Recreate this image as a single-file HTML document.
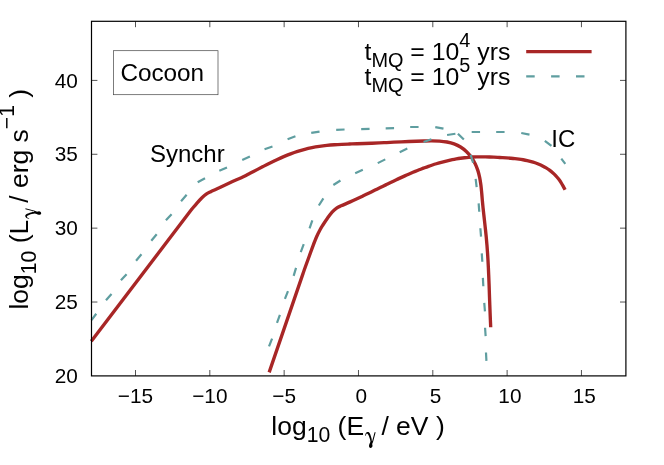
<!DOCTYPE html>
<html><head><meta charset="utf-8"><title>plot</title><style>html,body{margin:0;padding:0;background:#fff;}body{width:664px;height:465px;overflow:hidden;position:relative;font-family:"Liberation Sans",sans-serif;}</style></head><body>
<svg width="664" height="465" viewBox="0 0 664 465" style="position:absolute;left:0;top:0">
<rect width="664" height="465" fill="#fff"/>
<path d="M135.50,375.9 v-5.9 M135.50,21.3 v5.9 M209.82,375.9 v-5.9 M209.82,21.3 v5.9 M284.15,375.9 v-5.9 M284.15,21.3 v5.9 M358.47,375.9 v-5.9 M358.47,21.3 v5.9 M432.80,375.9 v-5.9 M432.80,21.3 v5.9 M507.12,375.9 v-5.9 M507.12,21.3 v5.9 M581.45,375.9 v-5.9 M581.45,21.3 v5.9 M91.5,302.02 h5.9 M625.9,302.02 h-5.9 M91.5,228.15 h5.9 M625.9,228.15 h-5.9 M91.5,154.27 h5.9 M625.9,154.27 h-5.9 M91.5,80.40 h5.9 M625.9,80.40 h-5.9" stroke="#1a1a1a" stroke-width="0.75" fill="none"/>
<path d="M91.30,341.30 L191.70,209.30 C192.62,208.22 195.53,204.68 197.20,202.80 C198.87,200.92 200.20,199.43 201.70,198.00 C203.20,196.57 204.70,195.25 206.20,194.20 C207.70,193.15 209.05,192.53 210.70,191.70 C212.35,190.87 213.68,190.32 216.10,189.20 C218.52,188.08 222.18,186.40 225.20,185.00 C228.22,183.60 231.19,182.17 234.20,180.80 C237.21,179.43 240.65,178.04 243.28,176.79 C245.91,175.55 247.75,174.51 249.98,173.35 C252.21,172.20 254.44,171.02 256.67,169.86 C258.90,168.70 261.13,167.53 263.37,166.38 C265.61,165.23 267.85,164.09 270.10,162.98 C272.34,161.86 274.60,160.76 276.87,159.71 C279.13,158.65 281.41,157.62 283.70,156.64 C285.99,155.66 288.29,154.72 290.61,153.84 C292.93,152.96 295.27,152.12 297.63,151.36 C299.98,150.60 302.36,149.90 304.76,149.27 C307.15,148.65 309.58,148.11 312.02,147.62 C314.45,147.14 316.91,146.73 319.39,146.36 C321.86,146.00 324.35,145.70 326.84,145.44 C329.34,145.18 331.85,144.97 334.36,144.78 C336.87,144.59 339.39,144.45 341.90,144.32 C344.42,144.19 346.94,144.10 349.46,144.00 C351.97,143.91 354.49,143.84 356.99,143.76 C359.49,143.68 361.99,143.61 364.48,143.52 C366.96,143.43 369.43,143.34 371.90,143.23 C374.37,143.13 376.82,143.02 379.27,142.90 C381.73,142.79 384.17,142.67 386.62,142.55 C389.07,142.43 391.52,142.30 393.97,142.18 C396.43,142.06 398.89,141.94 401.36,141.82 C403.83,141.71 406.30,141.60 408.80,141.49 C411.29,141.39 413.80,141.29 416.32,141.21 C418.85,141.13 421.40,141.05 423.96,140.99 C426.53,140.94 429.14,140.87 431.72,140.89 C434.30,140.91 436.91,140.94 439.45,141.13 C441.99,141.32 444.53,141.57 446.97,142.02 C449.40,142.48 451.81,143.04 454.08,143.86 C456.35,144.69 458.54,145.69 460.59,146.96 C462.63,148.22 464.56,149.75 466.33,151.43 C468.10,153.11 469.73,155.03 471.19,157.03 C472.64,159.04 473.94,161.22 475.05,163.44 C476.16,165.66 477.06,168.00 477.83,170.36 C478.61,172.72 479.18,175.16 479.69,177.61 C480.20,180.07 480.55,182.58 480.89,185.09 C481.22,187.61 481.44,190.16 481.68,192.69 C481.92,195.22 482.10,197.77 482.33,200.29 C482.56,202.81 482.81,205.31 483.06,207.81 C483.32,210.30 483.59,212.78 483.87,215.25 C484.14,217.73 484.42,220.19 484.70,222.65 C484.97,225.11 485.25,227.57 485.52,230.03 C485.78,232.49 486.04,234.95 486.27,237.41 C486.51,239.88 486.73,242.35 486.93,244.83 C487.13,247.31 487.32,249.79 487.49,252.28 C487.66,254.77 487.81,257.26 487.96,259.76 C488.10,262.25 488.23,264.75 488.35,267.26 C488.48,269.76 488.59,272.26 488.69,274.77 C488.80,277.27 488.90,279.78 488.99,282.29 C489.09,284.79 489.18,287.30 489.26,289.80 C489.35,292.31 489.44,294.82 489.52,297.32 C489.61,299.82 489.70,302.32 489.79,304.82 C489.88,307.31 489.97,309.81 490.07,312.30 C490.17,314.79 490.28,317.27 490.38,319.75 C490.49,322.24 490.65,325.96 490.70,327.20" stroke="#a82626" stroke-width="3.35" fill="none" stroke-linejoin="round"/>
<path d="M269.15,372.40 L303.00,273.60 C303.38,272.50 304.23,269.98 305.30,267.00 C306.37,264.02 308.12,259.23 309.40,255.70 C310.68,252.17 311.80,248.97 313.00,245.80 C314.20,242.63 315.40,239.42 316.60,236.70 C317.80,233.98 319.15,231.45 320.20,229.50 C321.25,227.55 321.67,226.92 322.90,225.00 C324.13,223.08 326.07,220.15 327.60,218.00 C329.13,215.85 330.60,213.75 332.10,212.10 C333.60,210.45 335.10,209.15 336.60,208.10 C338.10,207.05 338.83,206.83 341.10,205.80 C343.37,204.77 347.18,203.23 350.20,201.90 C353.22,200.57 356.94,198.85 359.20,197.80 C361.46,196.75 362.40,196.26 363.79,195.59 C365.18,194.92 366.29,194.38 367.54,193.78 C368.79,193.17 370.04,192.56 371.29,191.95 C372.55,191.33 373.80,190.72 375.05,190.10 C376.30,189.49 377.56,188.87 378.81,188.26 C380.07,187.64 381.32,187.02 382.58,186.41 C383.83,185.79 385.09,185.18 386.35,184.57 C387.61,183.96 388.87,183.34 390.13,182.74 C391.39,182.13 392.65,181.53 393.91,180.93 C395.18,180.33 396.44,179.73 397.71,179.14 C398.97,178.54 400.24,177.96 401.51,177.38 C402.78,176.79 404.05,176.22 405.33,175.65 C406.60,175.08 407.88,174.52 409.15,173.96 C410.43,173.41 411.71,172.86 412.99,172.32 C414.27,171.78 415.56,171.25 416.85,170.73 C418.13,170.21 419.42,169.70 420.71,169.20 C422.01,168.70 423.30,168.21 424.60,167.73 C425.89,167.25 427.19,166.78 428.50,166.33 C429.80,165.87 431.11,165.43 432.42,165.00 C433.72,164.57 435.04,164.15 436.35,163.75 C437.67,163.35 438.99,162.96 440.31,162.59 C441.63,162.22 442.96,161.86 444.28,161.52 C445.61,161.18 446.95,160.85 448.28,160.54 C449.62,160.23 450.96,159.94 452.30,159.67 C453.65,159.39 455.00,159.14 456.35,158.90 C457.70,158.67 459.06,158.45 460.42,158.25 C461.78,158.05 463.14,157.87 464.51,157.72 C465.88,157.56 467.25,157.42 468.63,157.31 C470.01,157.20 471.39,157.10 472.78,157.03 C474.17,156.96 475.56,156.91 476.95,156.88 C478.35,156.85 479.75,156.84 481.15,156.84 C482.55,156.84 483.95,156.86 485.36,156.89 C486.77,156.91 488.17,156.96 489.58,157.01 C490.99,157.06 492.40,157.12 493.81,157.19 C495.22,157.26 496.63,157.34 498.04,157.42 C499.45,157.50 500.87,157.58 502.27,157.67 C503.68,157.75 505.09,157.84 506.49,157.93 C507.90,158.03 509.30,158.13 510.70,158.24 C512.09,158.36 513.49,158.48 514.88,158.63 C516.26,158.77 517.65,158.93 519.02,159.12 C520.39,159.30 521.76,159.51 523.12,159.74 C524.48,159.98 525.83,160.24 527.17,160.54 C528.51,160.84 529.84,161.17 531.16,161.54 C532.47,161.91 533.78,162.32 535.07,162.76 C536.35,163.21 537.63,163.70 538.88,164.23 C540.13,164.76 541.36,165.33 542.57,165.94 C543.77,166.56 544.96,167.22 546.12,167.93 C547.27,168.64 548.40,169.39 549.50,170.20 C550.59,171.00 551.66,171.86 552.69,172.76 C553.72,173.67 554.72,174.63 555.68,175.64 C556.63,176.64 557.56,177.70 558.43,178.81 C559.30,179.92 560.14,181.08 560.93,182.30 C561.71,183.51 562.45,184.84 563.14,186.09 C563.84,187.34 564.77,189.18 565.10,189.80" stroke="#a82626" stroke-width="3.35" fill="none" stroke-linejoin="round"/>
<path d="M91.50,320.20 L96.25,313.75 M105.99,300.29 L111.51,293.96 M120.92,280.36 L126.58,274.14 M136.06,260.73 L141.44,254.27 M151.29,240.71 L156.71,234.29 M165.92,220.36 L171.58,214.14 M181.07,201.15 L186.63,194.85 M197.67,182.32 L205.03,178.28 M219.31,170.84 L226.99,167.46 M242.22,160.03 L249.88,156.57 M264.53,149.24 L272.47,146.51 M287.57,139.22 L295.43,136.28 M311.22,132.80 L319.53,131.55 M336.18,129.80 L344.57,129.50 M361.18,129.05 L369.57,128.95 M385.68,128.30 L394.07,128.20 M410.18,127.00 L418.57,127.00 M435.26,127.05 L443.49,128.70 M457.91,133.66 L463.84,139.59 M470.67,154.73 L473.08,162.77 M475.65,178.88 L476.65,187.22 M478.66,203.36 L479.24,211.74 M480.37,228.26 L481.03,236.64 M481.78,253.36 L482.32,261.74 M482.87,277.91 L483.33,286.29 M484.26,302.91 L484.94,311.29 M485.07,327.76 L485.63,336.14 M485.98,352.46 L486.42,360.84" stroke="#5f9ea0" stroke-width="2.2" fill="none"/>
<path d="M269.02,346.41 L272.08,338.59 M276.99,322.79 L279.91,314.91 M284.92,298.91 L287.98,291.09 M293.65,275.87 L296.05,267.83 M300.75,252.02 L303.75,244.18 M309.56,228.31 L312.34,220.39 M318.84,205.49 L323.36,198.41 M333.36,185.05 L340.44,180.55 M355.19,173.21 L362.81,169.69 M377.74,163.13 L385.26,159.37 M399.69,152.14 L407.31,148.61 M423.56,142.07 L431.44,139.18 M447.09,134.99 L455.41,133.76 M471.68,132.00 L480.07,132.00 M496.18,132.00 L504.57,132.00 M521.26,133.00 L529.49,134.70 M544.84,140.77 L551.46,145.93 M561.30,158.60 L565.30,163.80" stroke="#5f9ea0" stroke-width="2.2" fill="none"/>
<rect x="91.5" y="21.3" width="534.4" height="354.59999999999997" fill="none" stroke="#000" stroke-width="1.2"/>
<rect x="113.4" y="50.7" width="104.6" height="44" fill="#fff" stroke="#444" stroke-width="0.7"/>
<path d="M526.2,51.6 H591.6" stroke="#a82626" stroke-width="3.35"/>
<path d="M526.2,76.4 H591.6" stroke="#5f9ea0" stroke-width="2.2" stroke-dasharray="8.5 16.4"/>
<g style="opacity:0.999">
<text x="135.50" y="403.4" font-size="20.8" text-anchor="middle" font-family="Liberation Sans, sans-serif">−15</text>
<text x="209.82" y="403.4" font-size="20.8" text-anchor="middle" font-family="Liberation Sans, sans-serif">−10</text>
<text x="284.15" y="403.4" font-size="20.8" text-anchor="middle" font-family="Liberation Sans, sans-serif">−5</text>
<text x="361.27" y="403.4" font-size="20.8" text-anchor="middle" font-family="Liberation Sans, sans-serif">0</text>
<text x="435.60" y="403.4" font-size="20.8" text-anchor="middle" font-family="Liberation Sans, sans-serif">5</text>
<text x="509.92" y="403.4" font-size="20.8" text-anchor="middle" font-family="Liberation Sans, sans-serif">10</text>
<text x="584.25" y="403.4" font-size="20.8" text-anchor="middle" font-family="Liberation Sans, sans-serif">15</text>
<text x="77.9" y="383.10" font-size="20.8" text-anchor="end" font-family="Liberation Sans, sans-serif">20</text>
<text x="77.9" y="309.22" font-size="20.8" text-anchor="end" font-family="Liberation Sans, sans-serif">25</text>
<text x="77.9" y="235.35" font-size="20.8" text-anchor="end" font-family="Liberation Sans, sans-serif">30</text>
<text x="77.9" y="161.47" font-size="20.8" text-anchor="end" font-family="Liberation Sans, sans-serif">35</text>
<text x="77.9" y="87.60" font-size="20.8" text-anchor="end" font-family="Liberation Sans, sans-serif">40</text>
<text x="120.4" y="80.9" font-size="24.3" font-family="Liberation Sans, sans-serif">Cocoon</text>
<text x="150" y="162" font-size="24" font-family="Liberation Sans, sans-serif">Synchr</text>
<text x="551.3" y="147.2" font-size="24" font-family="Liberation Sans, sans-serif">IC</text>
<text x="271.3" y="434.7" font-size="26.5" font-family="Liberation Sans, sans-serif">log<tspan font-size="21.2" dy="7.6">10</tspan><tspan dy="-7.6"> (E</tspan><tspan dx="9.9"> / eV )</tspan></text>
<path transform="translate(271.3,434.7)" d="M93.81,1.05 L94.23,-1.06 C94.50,-1.63 95.03,-2.11 95.43,-2.39 C95.84,-2.67 96.24,-2.77 96.64,-2.75 C97.04,-2.73 97.44,-2.70 97.84,-2.27 C98.25,-1.83 98.65,-1.16 99.05,-0.16 C99.45,0.85 99.94,2.67 100.25,3.76 C100.57,4.84 100.41,7.40 100.92,6.35 L103.27,-2.57 L104.35,-2.57 L101.88,6.77 C101.31,8.73 101.03,8.48 100.92,9.18 C100.81,9.88 101.27,10.40 101.22,10.99 C101.17,11.57 100.95,12.30 100.62,12.67 C100.28,13.04 99.66,13.25 99.23,13.22 C98.80,13.19 98.28,12.91 98.03,12.49 C97.77,12.07 97.65,11.34 97.72,10.69 C97.79,10.03 98.22,9.23 98.45,8.58 C98.68,7.92 99.11,7.57 99.11,6.77 C99.11,5.97 98.76,4.81 98.45,3.76 C98.14,2.70 97.64,1.25 97.24,0.44 C96.84,-0.36 96.39,-0.86 96.04,-1.06 C95.69,-1.26 95.38,-1.01 95.13,-0.76 C94.88,-0.51 94.68,0.11 94.53,0.44 L94.23,1.23 L93.81,1.05Z" fill="#000"/>
<text transform="translate(28,309.6) rotate(-90)" font-size="26.5" font-family="Liberation Sans, sans-serif">log<tspan font-size="21.2" dy="7.6">10</tspan><tspan dy="-7.6"> (L</tspan><tspan dx="10.5"> / erg s</tspan><tspan font-size="21.2" dy="-14.3">−1</tspan><tspan dy="14.3"> )</tspan></text>
<path transform="translate(28,309.6) rotate(-90)" d="M90.87,1.05 L91.29,-1.06 C91.56,-1.63 92.09,-2.11 92.49,-2.39 C92.90,-2.67 93.30,-2.77 93.70,-2.75 C94.10,-2.73 94.50,-2.70 94.90,-2.27 C95.31,-1.83 95.71,-1.16 96.11,-0.16 C96.51,0.85 97.00,2.67 97.31,3.76 C97.63,4.84 97.47,7.40 97.98,6.35 L100.33,-2.57 L101.41,-2.57 L98.94,6.77 C98.37,8.73 98.09,8.48 97.98,9.18 C97.87,9.88 98.33,10.40 98.28,10.99 C98.23,11.57 98.01,12.30 97.68,12.67 C97.34,13.04 96.72,13.25 96.29,13.22 C95.86,13.19 95.34,12.91 95.09,12.49 C94.83,12.07 94.71,11.34 94.78,10.69 C94.85,10.03 95.28,9.23 95.51,8.58 C95.74,7.92 96.17,7.57 96.17,6.77 C96.17,5.97 95.82,4.81 95.51,3.76 C95.20,2.70 94.70,1.25 94.30,0.44 C93.90,-0.36 93.45,-0.86 93.10,-1.06 C92.75,-1.26 92.44,-1.01 92.19,-0.76 C91.94,-0.51 91.74,0.11 91.59,0.44 L91.29,1.23 L90.87,1.05Z" fill="#000"/>
<text x="510.3" y="59.7" font-size="24.8" text-anchor="end" font-family="Liberation Sans, sans-serif">t<tspan font-size="19.9" dy="7.4">MQ</tspan><tspan dy="-7.4"> = 10</tspan><tspan font-size="19.9" dy="-12.6">4</tspan><tspan dy="12.6"> yrs</tspan></text>
<text x="510.3" y="84.6" font-size="24.8" text-anchor="end" font-family="Liberation Sans, sans-serif">t<tspan font-size="19.9" dy="7.4">MQ</tspan><tspan dy="-7.4"> = 10</tspan><tspan font-size="19.9" dy="-12.6">5</tspan><tspan dy="12.6"> yrs</tspan></text>
</g>
</svg>
</body></html>
